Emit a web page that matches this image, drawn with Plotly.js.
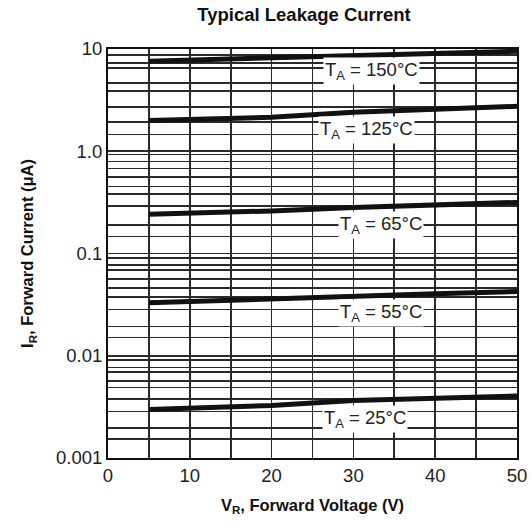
<!DOCTYPE html>
<html>
<head>
<meta charset="utf-8">
<script src="https://cdn.plot.ly/plotly-3.0.1.min.js"></script>
<style>html,body{margin:0;padding:0;background:#fff;}#chart{width:532px;height:523px;}</style>
</head>
<body>
<div id="chart"></div>
<script>
// Reverse voltage (V)
const voltage = [5, 10, 20, 30, 40, 50];
// Leakage current (µA) per temperature
const i150 = [7.6, 7.8, 8.1, 8.7, 9.2, 9.5];
const i125 = [2.0, 2.05, 2.15, 2.4, 2.6, 2.75];
const i65  = [0.242, 0.248, 0.261, 0.282, 0.302, 0.316];
const i55  = [0.0329, 0.0340, 0.0360, 0.0383, 0.0404, 0.0425];
const i25  = [0.00298, 0.00308, 0.00327, 0.00365, 0.00388, 0.00403];
const seriesNames = ["T<sub>A</sub> = 150°C", "T<sub>A</sub> = 125°C", "T<sub>A</sub> = 65°C", "T<sub>A</sub> = 55°C", "T<sub>A</sub> = 25°C"];

// Axis ticks
const xTickVals = [0, 5, 10, 15, 20, 25, 30, 35, 40, 45, 50];
const xTickText = ["0", "", "10", "", "20", "", "30", "", "40", "", "50"];
const yMajorVals = [10, 1, 0.1, 0.01, 0.001];
const yMajorText = ["10", "1.0", "0.1", "0.01", "0.001"];
const yGridVals = [8.77, 7.29, 6.49, 4.64, 3.91, 2.72, 1.93, 1.46,
                   0.927, 0.794, 0.681, 0.562, 0.454, 0.383, 0.293, 0.189, 0.147,
                   0.0907, 0.0767, 0.0685, 0.0567, 0.0459, 0.0375, 0.0283, 0.0194, 0.0151,
                   0.00909, 0.00766, 0.00689, 0.00563, 0.00491, 0.00376, 0.00286, 0.00196, 0.00153];

const allSeries = [i150, i125, i65, i55, i25];
const traces = allSeries.map((s, k) => ({
  x: voltage, y: s, type: 'scatter', mode: 'lines', name: seriesNames[k],
  line: {color: '#111', width: 5}, hoverinfo: 'skip'
}));

const yTickVals = yMajorVals.concat(yGridVals);
const yTickText = yMajorText.concat(yGridVals.map(() => ""));

// label positions [x, log10(y)]
const labelPos = [[32.2, 0.78], [31.6, 0.212], [33.4, -0.717], [33.4, -1.578], [31.4, -2.615]];
const annotations = labelPos.map((p, k) => ({
  x: p[0], y: p[1], xref: 'x', yref: 'y', text: seriesNames[k], showarrow: false,
  bgcolor: '#fff', borderpad: 1, font: {family: 'Liberation Sans, Arial, sans-serif', size: 18.5, color: '#222'}
}));

const layout = {
  width: 532, height: 523,
  margin: {l: 108, r: 15, t: 49, b: 65},
  paper_bgcolor: '#fff', plot_bgcolor: '#fff',
  showlegend: false,
  font: {family: 'Liberation Sans, Arial, sans-serif', color: '#222'},
  title: {text: '<b>Typical Leakage Current</b>', x: 304/532, xanchor: 'center', y: 0.972, yanchor: 'middle',
          font: {size: 18.5, color: '#111'}},
  xaxis: {
    range: [0, 50], tickmode: 'array', tickvals: xTickVals, ticktext: xTickText,
    showgrid: true, gridcolor: '#2a2a2a', gridwidth: 1.6, zeroline: false,
    showline: true, mirror: true, linecolor: '#111', linewidth: 2,
    ticks: '', tickfont: {size: 18.5, color: '#222'},
    title: {text: '<b>V<sub>R</sub>, Forward Voltage (V)</b>', font: {size: 16.5, color: '#111'}, standoff: 14}
  },
  yaxis: {
    type: 'log', range: [-3, 1], tickmode: 'array', tickvals: yTickVals, ticktext: yTickText,
    showgrid: true, gridcolor: '#2a2a2a', gridwidth: 1.6, zeroline: false,
    showline: true, mirror: true, linecolor: '#111', linewidth: 2,
    ticks: '', tickfont: {size: 18.5, color: '#222'},
    title: {text: '<b>I<sub>R</sub>, Forward Current (μA)</b>', font: {size: 16.5, color: '#111'}, standoff: 18}
  },
  annotations: annotations
};

Plotly.newPlot('chart', traces, layout, {staticPlot: true, displayModeBar: false});
</script>
</body>
</html>
